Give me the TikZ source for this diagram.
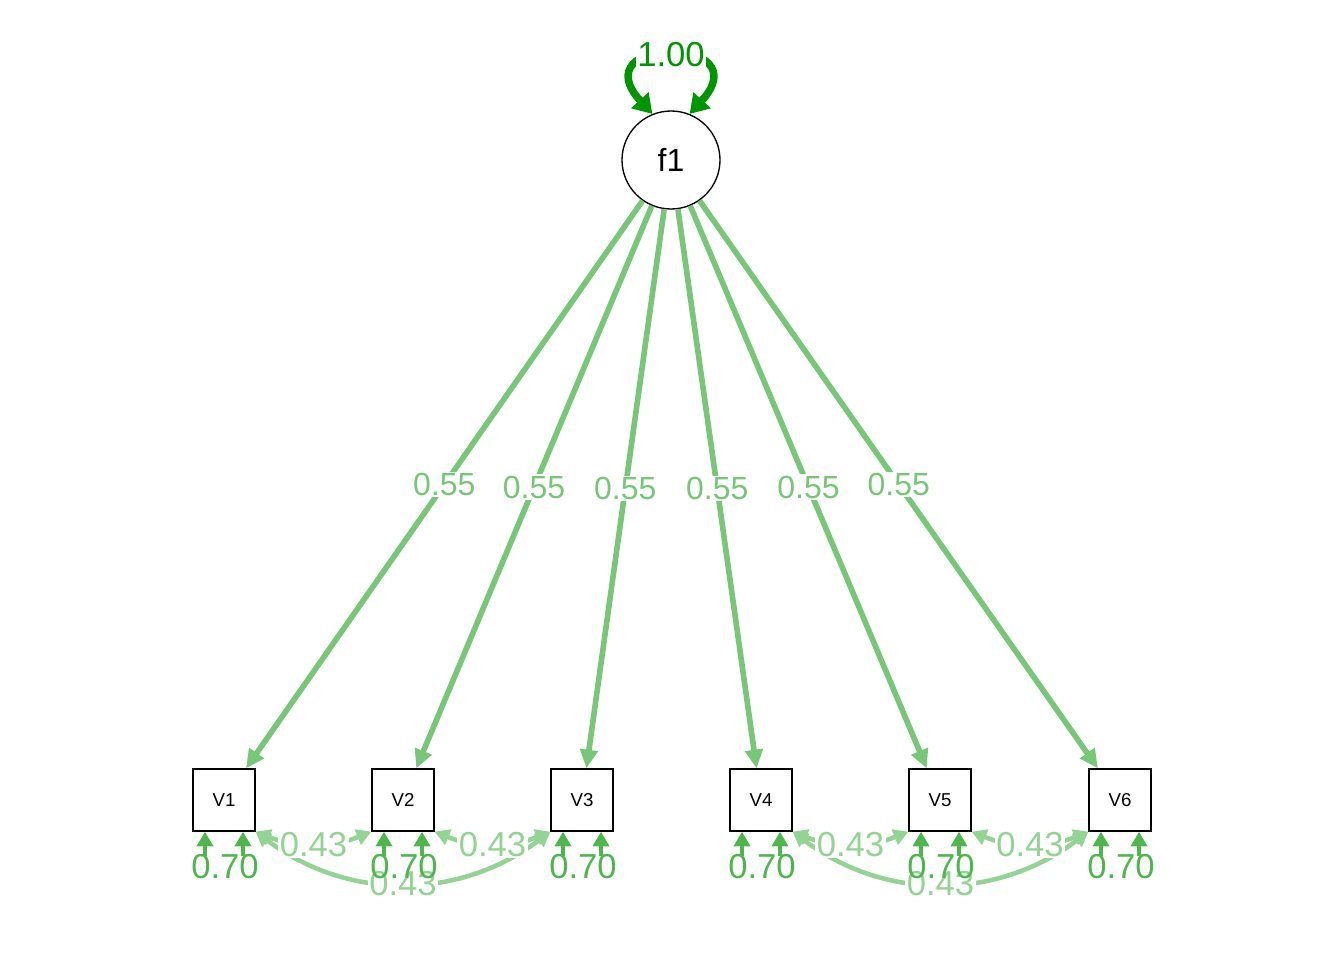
\documentclass[tikz,border=0pt]{standalone}
\usepackage{fontspec}
\setmainfont{Liberation Sans}
\usetikzlibrary{arrows.meta}
\definecolor{loadgreen}{RGB}{118,200,118}
\definecolor{residgreen}{RGB}{77,183,77}
\definecolor{corrgreen}{RGB}{146,212,146}
\definecolor{vargreen}{RGB}{0,150,0}

\begin{document}
\begin{tikzpicture}[x=0.75pt,y=-0.75pt,
	latent/.style={draw, circle, line width=1pt, minimum size=73.5pt, inner sep=0pt, font=\fontsize{24}{24}\selectfont},
	manifest/.style={draw, rectangle, line width=1pt, minimum size=46.5pt, inner sep=0pt, font=\fontsize{14}{14}\selectfont},
	loading/.style={draw=loadgreen, line width=4.2pt, -{Triangle[width=13pt,length=14pt]}},
	resid/.style={draw=residgreen, line width=3.6pt, -{Triangle[width=12pt,length=11pt]}},
	corr/.style={draw=corrgreen, line width=3.4pt, {Triangle[width=12pt,length=11pt]}-{Triangle[width=12pt,length=11pt]}},
	fvar/.style={draw=vargreen, line width=5.6pt, {Triangle[width=17pt,length=14pt]}-{Triangle[width=17pt,length=14pt]}},
	lbl/.style={inner sep=1pt, font=\fontsize{24}{24}\selectfont},
	biglbl/.style={inner sep=1pt, font=\fontsize{26}{26}\selectfont},
	]
	\useasboundingbox (0,0) rectangle (1344,960);
	\node[latent] (f1) at (671,160) {f1};
	\node[manifest] (V1) at (224,800) {V1};
	\node[manifest] (V2) at (403,800) {V2};
	\node[manifest] (V3) at (582,800) {V3};
	\node[manifest] (V4) at (761,800) {V4};
	\node[manifest] (V5) at (940,800) {V5};
	\node[manifest] (V6) at (1120,800) {V6};
	\coordinate (r1a) at (205,856);
	\coordinate (r1b) at (243,856);
	\coordinate (r2a) at (384,856);
	\coordinate (r2b) at (422,856);
	\coordinate (r3a) at (563,856);
	\coordinate (r3b) at (601,856);
	\coordinate (r4a) at (742,856);
	\coordinate (r4b) at (780,856);
	\coordinate (r5a) at (921,856);
	\coordinate (r5b) at (959,856);
	\coordinate (r6a) at (1101,856);
	\coordinate (r6b) at (1139,856);

	\draw[fvar] (f1.112) .. controls (580,35) and (762,35) .. (f1.68)
		node[pos=0.5, biglbl, fill=white, text=vargreen] (l0) {1.00};

	\draw[loading] (f1) -- (V1) node[pos=0.5, lbl, fill=white, text=loadgreen] (l1) {0.55};
	\draw[loading] (f1) -- (V2) node[pos=0.5, lbl, fill=white, text=loadgreen] (l2) {0.55};
	\draw[loading] (f1) -- (V3) node[pos=0.5, lbl, fill=white, text=loadgreen] (l3) {0.55};
	\draw[loading] (f1) -- (V4) node[pos=0.5, lbl, fill=white, text=loadgreen] (l4) {0.55};
	\draw[loading] (f1) -- (V5) node[pos=0.5, lbl, fill=white, text=loadgreen] (l5) {0.55};
	\draw[loading] (f1) -- (V6) node[pos=0.5, lbl, fill=white, text=loadgreen] (l6) {0.55};

	\draw[corr] (V1.south east) to[bend right=37] node[pos=0.5, biglbl, fill=white, text=corrgreen] (c13) {0.43} (V3.south west);
	\draw[corr] (V4.south east) to[bend right=37] node[pos=0.5, biglbl, fill=white, text=corrgreen] (c46) {0.43} (V6.south west);
	\draw[corr] (V1.south east) to[bend right=22] node[pos=0.5, biglbl, fill=white, text=corrgreen] (c12) {0.43} (V2.south west);
	\draw[corr] (V2.south east) to[bend right=22] node[pos=0.5, biglbl, fill=white, text=corrgreen] (c23) {0.43} (V3.south west);
	\draw[corr] (V4.south east) to[bend right=22] node[pos=0.5, biglbl, fill=white, text=corrgreen] (c45) {0.43} (V5.south west);
	\draw[corr] (V5.south east) to[bend right=22] node[pos=0.5, biglbl, fill=white, text=corrgreen] (c56) {0.43} (V6.south west);

	\draw[resid] (r1a) -- (r1a |- V1.south);
	\draw[resid] (r1b) -- (r1b |- V1.south);
	\draw[resid] (r2a) -- (r2a |- V2.south);
	\draw[resid] (r2b) -- (r2b |- V2.south);
	\draw[resid] (r3a) -- (r3a |- V3.south);
	\draw[resid] (r3b) -- (r3b |- V3.south);
	\draw[resid] (r4a) -- (r4a |- V4.south);
	\draw[resid] (r4b) -- (r4b |- V4.south);
	\draw[resid] (r5a) -- (r5a |- V5.south);
	\draw[resid] (r5b) -- (r5b |- V5.south);
	\draw[resid] (r6a) -- (r6a |- V6.south);
	\draw[resid] (r6b) -- (r6b |- V6.south);
	\node[biglbl, text=residgreen] (e1) at (225,867) {0.70};
	\node[biglbl, text=residgreen] (e2) at (404,867) {0.70};
	\node[biglbl, text=residgreen] (e3) at (583,867) {0.70};
	\node[biglbl, text=residgreen] (e4) at (762,867) {0.70};
	\node[biglbl, text=residgreen] (e5) at (941,867) {0.70};
	\node[biglbl, text=residgreen] (e6) at (1121,867) {0.70};
\end{tikzpicture}
\end{document}
